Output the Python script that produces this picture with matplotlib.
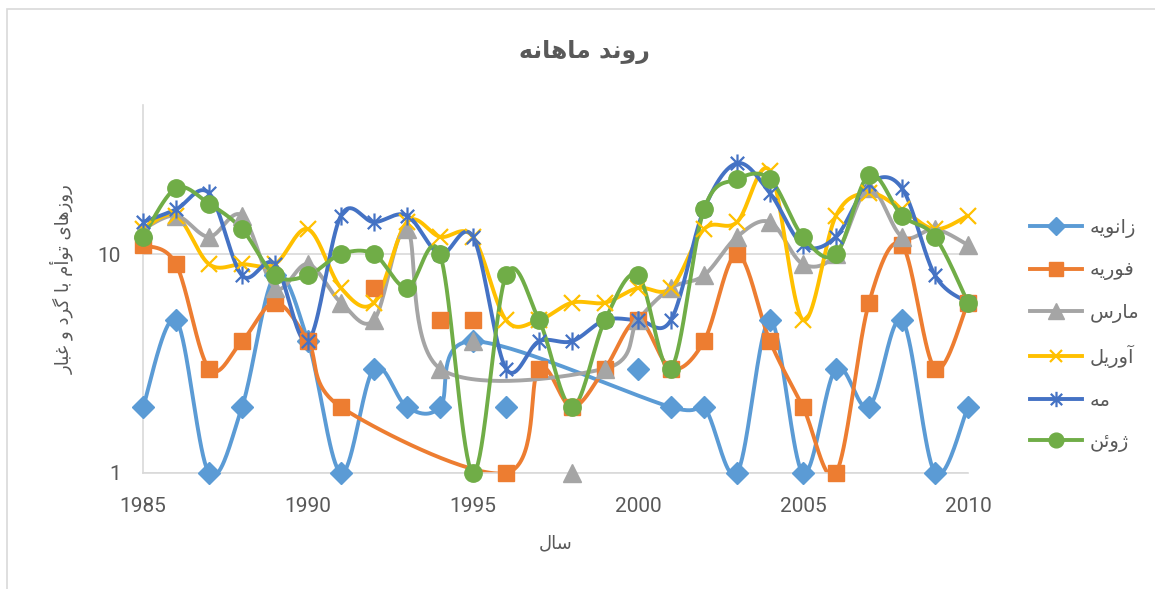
import numpy as np
import matplotlib
matplotlib.use('Agg')
import matplotlib.pyplot as plt
from matplotlib.lines import Line2D
from matplotlib.path import Path
from matplotlib.patches import Rectangle

years = list(range(1985, 2011))
nan = np.nan

# days per year, one list per month (nan = no value)
zanvieh = [2, 5, 1, 2, 8, 4, 1, 3, 2, 2, 4, 2, nan, nan, nan, 3, 2, 2, 1, 5, 1, 3, 2, 5, 1, 2]
fevrieh = [11, 9, 3, 4, 6, 4, 2, 7, nan, 5, 5, 1, 3, 2, 3, 5, 3, 4, 10, 4, 2, 1, 6, 11, 3, 6]
mars = [13, 15, 12, 15, 7, 9, 6, 5, 13, 3, 4, nan, nan, 1, 3, 5, 7, 8, 12, 14, 9, 10, 20, 12, 13, 11]
avril = [13, 15, 9, 9, 9, 13, 7, 6, 14, 12, 12, 5, 5, 6, 6, 7, 7, 13, 14, 24, 5, 15, 19, 16, 13, 15]
may = [14, 16, 19, 8, 9, 4, 15, 14, 15, 10, 12, 3, 4, 4, 5, 5, 5, 16, 26, 19, 11, 12, 21, 20, 8, 6]
june = [12, 20, 17, 13, 8, 8, 10, 10, 7, 10, 1, 8, 5, 2, 5, 8, 3, 16, 22, 22, 12, 10, 23, 15, 12, 6]

# points that show a marker but are left out of the smoothed line
loose = {
    'zanvieh': [1996, 2000],
    'fevrieh': [1992, 1994, 1995],
    'mars': [1995, 1998],
}

names = ['زانویه', 'فوریه', 'مارس', 'آوریل', 'مه', 'ژوئن']
title = 'روند ماهانه'
xlabel = 'سال'
ylabel = 'روزهای توأم با گرد و غبار'

# --- simple persian shaping (matplotlib draws glyphs left to right, unjoined) ---
forms = {
    'ا': ('\uFE8D', '\uFE8E'), 'آ': ('\uFE81', '\uFE82'), 'أ': ('\uFE83', '\uFE84'),
    'د': ('\uFEA9', '\uFEAA'), 'ر': ('\uFEAD', '\uFEAE'), 'ز': ('\uFEAF', '\uFEB0'),
    'ژ': ('\uFB8A', '\uFB8B'), 'و': ('\uFEED', '\uFEEE'),
    'ب': ('\uFE8F', '\uFE90', '\uFE91', '\uFE92'), 'ت': ('\uFE95', '\uFE96', '\uFE97', '\uFE98'),
    'س': ('\uFEB1', '\uFEB2', '\uFEB3', '\uFEB4'), 'غ': ('\uFECD', '\uFECE', '\uFECF', '\uFED0'),
    'ف': ('\uFED1', '\uFED2', '\uFED3', '\uFED4'), 'ل': ('\uFEDD', '\uFEDE', '\uFEDF', '\uFEE0'),
    'م': ('\uFEE1', '\uFEE2', '\uFEE3', '\uFEE4'), 'ن': ('\uFEE5', '\uFEE6', '\uFEE7', '\uFEE8'),
    'ه': ('\uFEE9', '\uFEEA', '\uFEEB', '\uFEEC'), 'ی': ('\uFBFC', '\uFBFD', '\uFBFE', '\uFBFF'),
    'ئ': ('\uFE89', '\uFE8A', '\uFE8B', '\uFE8C'), 'گ': ('\uFB92', '\uFB93', '\uFB94', '\uFB95'),
}


def fa(s):
    out = []
    for i, c in enumerate(s):
        if c not in forms:
            out.append(c)
            continue
        prev = s[i - 1] if i > 0 else ''
        nxt = s[i + 1] if i + 1 < len(s) else ''
        join_prev = prev in forms and len(forms[prev]) == 4
        join_next = len(forms[c]) == 4 and nxt in forms
        f = forms[c]
        if join_prev and join_next:
            out.append(f[3])
        elif join_prev:
            out.append(f[1])
        elif join_next:
            out.append(f[2])
        else:
            out.append(f[0])
    return ''.join(out[::-1])


def smooth(xs, ys, n=40):
    # catmull-rom style bezier through the points, in log space
    p = np.column_stack([xs, np.log10(ys)])
    if len(p) < 2:
        return xs, ys
    segx, segy = [], []
    t = np.linspace(0, 1, n)[:, None]
    for i in range(len(p) - 1):
        p0 = p[i - 1] if i > 0 else p[i]
        p1, p2 = p[i], p[i + 1]
        p3 = p[i + 2] if i + 2 < len(p) else p[i + 1]
        c1 = p1 + (p2 - p0) / 6
        c2 = p2 - (p3 - p1) / 6
        b = (1 - t) ** 3 * p1 + 3 * (1 - t) ** 2 * t * c1 + 3 * (1 - t) * t ** 2 * c2 + t ** 3 * p2
        segx.append(b[:, 0])
        segy.append(b[:, 1])
    return np.concatenate(segx), 10 ** np.concatenate(segy)


star = Path([(-1, -1), (1, 1), (-1, 1), (1, -1), (0, -1.35), (0, 1.35)],
            [Path.MOVETO, Path.LINETO, Path.MOVETO, Path.LINETO, Path.MOVETO, Path.LINETO])

series = [
    ('zanvieh', zanvieh, '#5B9BD5', 'D', 11),
    ('fevrieh', fevrieh, '#ED7D31', 's', 12),
    ('mars', mars, '#A5A5A5', '^', 13),
    ('avril', avril, '#FFC000', 'x', 11),
    ('may', may, '#4472C4', star, 13),
    ('june', june, '#70AD47', 'o', 12.5),
]

fig = plt.figure(figsize=(11.55, 5.89), dpi=100)
ax = fig.add_axes([143 / 1155, 1 - 473 / 589, 825 / 1155, 368 / 589])

handles = []
for (key, vals, col, mk, ms), name in zip(series, names):
    vals = np.array(vals, dtype=float)
    yr = np.array(years)
    ok = ~np.isnan(vals)
    on_line = ok & ~np.isin(yr, loose.get(key, []))
    sx, sy = smooth(yr[on_line], vals[on_line])
    ax.plot(sx, sy, color=col, lw=2.8, solid_capstyle='round', zorder=2)
    filled = mk != 'x' and mk is not star
    kw = dict(marker=mk, ms=ms, ls='none')
    if filled:
        kw.update(mfc=col, mec=col)
    else:
        kw.update(mec=col, mew=1.6, mfc='none')
    ax.plot(yr[ok], vals[ok], zorder=3, clip_on=False, **kw)
    leg_kw = dict(kw, ls='-', ms=ms * 0.85)
    handles.append(Line2D([0], [0], color=col, lw=2.8, **leg_kw))

ax.set_yscale('log')
ax.set_xlim(1985, 2010)
ax.set_ylim(1, 48)
ax.set_yticks([1, 10])
ax.set_yticklabels(['1', '10'])
ax.yaxis.set_minor_locator(matplotlib.ticker.NullLocator())
ax.set_xticks([1985, 1990, 1995, 2000, 2005, 2010])
ax.tick_params(length=0, labelsize=15, labelcolor='#595959')
ax.tick_params(axis='x', pad=17)
ax.tick_params(axis='y', pad=16)
for lab in ax.get_xticklabels() + ax.get_yticklabels():
    lab.set_family('Roboto')
ax.grid(axis='y', color='#D9D9D9', lw=1.2)
ax.set_axisbelow(True)
for s in ['top', 'right']:
    ax.spines[s].set_visible(False)
for s in ['left', 'bottom']:
    ax.spines[s].set_color('#D9D9D9')
    ax.spines[s].set_linewidth(1.2)

fig.text(584 / 1155, 1 - 52 / 589, fa(title), ha='center', va='center',
         fontsize=17, fontweight='bold', color='#595959', family='DejaVu Sans')
fig.text(556 / 1155, 1 - 543 / 589, fa(xlabel), ha='center', va='center',
         fontsize=13, color='#595959', family='DejaVu Sans')
fig.text(62 / 1155, 1 - 279 / 589, fa(ylabel), ha='center', va='center', rotation=90,
         fontsize=13, color='#595959', family='DejaVu Sans')

fig.legend(handles, [fa(n) for n in names], loc='center left',
           bbox_to_anchor=(1022 / 1155, 1 - 335 / 589), frameon=False,
           prop={'family': 'DejaVu Sans', 'size': 14}, labelcolor='#595959',
           handlelength=2.7, labelspacing=1.15, borderaxespad=0, handletextpad=0.4)

# chart border (only its top and left edges fall inside the picture)
fig.patches.append(Rectangle((7 / 1155, -0.1), 1.2, 1 - 9 / 589 + 0.1, transform=fig.transFigure,
                             fill=False, ec='#D9D9D9', lw=1.2))

fig.savefig('out.png', dpi=100, facecolor='white')
